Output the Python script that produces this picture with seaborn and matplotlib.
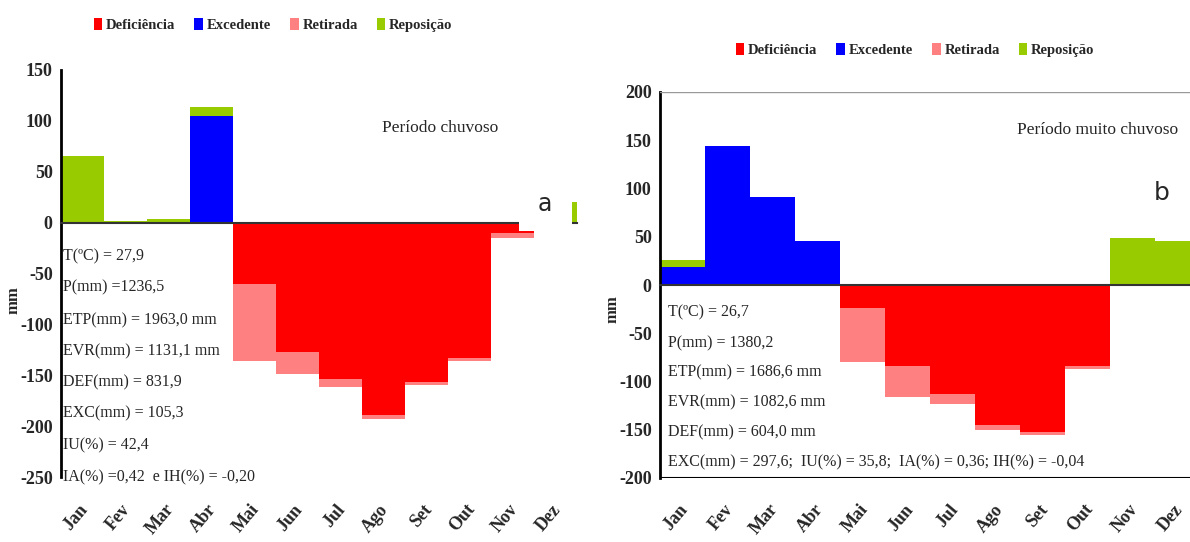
# -*- coding: utf-8 -*-
# Balanco hidrico - periodo chuvoso (a) e periodo muito chuvoso (b)

import matplotlib
matplotlib.use("Agg")
import matplotlib.pyplot as plt
import matplotlib.transforms as mtransforms
from matplotlib.patches import Patch, Rectangle
import seaborn as sns

# Meses
months = ['Jan', 'Fev', 'Mar', 'Abr', 'Mai', 'Jun', 'Jul', 'Ago', 'Set', 'Out', 'Nov', 'Dez']

# Painel a - periodo chuvoso (mm)
a_def = [0, 0, 0, 0, -60, -127, -154, -189, -157, -133, -10, 0]
a_ret = [0, 0, 0, 0, -76, -22, -8, -4, -3, -3, -5, 0]
a_exc = [0, 0, 0, 105, 0, 0, 0, 0, 0, 0, 0, 0]
a_rep = [65, 2, 4, 9, 0, 0, 0, 0, 0, 0, 0, 20]

# Painel b - periodo muito chuvoso (mm)
b_def = [0, 0, 0, 0, -24, -84, -113, -145, -152, -84, 0, 0]
b_ret = [0, 0, 0, 0, -56, -32, -10, -5, -3, -3, 0, 0]
b_exc = [19, 144, 91, 46, 0, 0, 0, 0, 0, 0, 0, 0]
b_rep = [7, 0, 0, 0, 0, 0, 0, 0, 0, 0, 49, 46]

a_stats = ['T(ºC) = 27,9', 'P(mm) =1236,5', 'ETP(mm) = 1963,0 mm', 'EVR(mm) = 1131,1 mm',
           'DEF(mm) = 831,9', 'EXC(mm) = 105,3', 'IU(%) = 42,4', 'IA(%) =0,42  e IH(%) = -0,20']
b_stats = ['T(ºC) = 26,7', 'P(mm) = 1380,2', 'ETP(mm) = 1686,6 mm', 'EVR(mm) = 1082,6 mm',
           'DEF(mm) = 604,0 mm', 'EXC(mm) = 297,6;  IU(%) = 35,8;  IA(%) = 0,36; IH(%) = -0,04']

labels = ['Deficiência', 'Excedente', 'Retirada', 'Reposição']
colors = ['#FF0000', '#0000FF', '#FF8080', '#99CC00']
c_def, c_exc, c_ret, c_rep = colors

sns.set_theme(style='white')
plt.rcParams['font.family'] = ['Liberation Serif', 'DejaVu Serif']
plt.rcParams['axes.unicode_minus'] = False

W, H = 1190, 542
fig = plt.figure(figsize=(W / 100, H / 100), dpi=100)

def fx(px):
    return px / W

def fy(py):
    return 1 - py / H

ax1 = fig.add_axes([fx(61), fy(477), fx(516), 407 / H])
ax2 = fig.add_axes([fx(660), fy(478), fx(540), 386 / H])


def draw_panel(ax, d, r, e, p):
    neg_tot = [x + y for x, y in zip(d, r)]
    pos_tot = [x + y for x, y in zip(e, p)]
    # stacked bars by overdrawing the totals
    sns.barplot(x=months, y=neg_tot, color=c_ret, width=1, saturation=1, linewidth=0, ax=ax)
    sns.barplot(x=months, y=d, color=c_def, width=1, saturation=1, linewidth=0, ax=ax)
    sns.barplot(x=months, y=pos_tot, color=c_rep, width=1, saturation=1, linewidth=0, ax=ax)
    sns.barplot(x=months, y=e, color=c_exc, width=1, saturation=1, linewidth=0, ax=ax)
    ax.set_xlim(-0.5, 11.5)
    ax.set_xticks([i + 0.5 for i in range(12)])
    ax.set_xticklabels([])
    ax.set_xlabel('')
    ax.set_ylabel('')
    for s in ['top', 'right']:
        ax.spines[s].set_visible(False)
    ax.spines['bottom'].set_position(('data', 0))
    ax.spines['bottom'].set_color('#333333')
    ax.spines['bottom'].set_linewidth(1.5)
    ax.spines['left'].set_color('black')
    ax.spines['left'].set_linewidth(2)
    ax.tick_params(axis='x', direction='out', length=6, width=1, color='#333333', pad=0)
    ax.tick_params(axis='y', direction='out', length=4, width=1.5, color='black',
                   labelsize=13, pad=2)
    # month labels under the plot
    tr = mtransforms.blended_transform_factory(ax.transData, fig.transFigure)
    for i, m in enumerate(months):
        ax.text(i + 0.2, fy(501), m, transform=tr, rotation=50, ha='right', va='top',
                fontsize=13, fontweight='bold')


draw_panel(ax1, a_def, a_ret, a_exc, a_rep)
ax1.set_ylim(-250, 150)
ax1.set_yticks(range(-250, 151, 50))
for t in ax1.get_yticklabels():
    t.set_fontweight('bold')

draw_panel(ax2, b_def, b_ret, b_exc, b_rep)
ax2.set_ylim(-200, 200)
ax2.set_yticks(range(-200, 201, 50))
for t in ax2.get_yticklabels():
    t.set_fontweight('bold')
ax2.axhline(200, color='#999999', lw=1, zorder=3)
ax2.axhline(-200, color='black', lw=1.5, zorder=3)

# white patch with the panel letter (as in the original figure)
ax1.add_patch(Rectangle((10.15, -8.5), 1.23, 45, facecolor='white', edgecolor='none', zorder=4))
ax1.text(10.76, 18, 'a', fontsize=17, family='DejaVu Sans', ha='center', va='center', zorder=5)
ax2.text(10.65, 95, 'b', fontsize=18, family='DejaVu Sans', ha='center', va='center', zorder=5)

# period titles
fig.text(fx(440), fy(128), 'Período chuvoso', fontsize=12.5, ha='center', va='center')
fig.text(fx(1098), fy(130), 'Período muito chuvoso', fontsize=12.5, ha='center', va='center')

# statistics
ys_a = [256, 287, 320, 351, 382, 413, 445, 477]
for s, yy in zip(a_stats, ys_a):
    fig.text(fx(63), fy(yy), s, fontsize=11.5, ha='left', va='center')
ys_b = [312, 343, 372, 402, 432, 462]
for s, yy in zip(b_stats, ys_b):
    fig.text(fx(668), fy(yy), s, fontsize=11.5, ha='left', va='center')

# y labels
fig.text(fx(14), fy(300), 'mm', rotation=90, fontsize=12, fontweight='bold', ha='center', va='center')
fig.text(fx(613), fy(309), 'mm', rotation=90, fontsize=12, fontweight='bold', ha='center', va='center')

# legends
handles = [Patch(facecolor=c, edgecolor='none') for c in colors]
for cx, cy in [(273, 25), (915, 50)]:
    fig.legend(handles, labels, loc='center', bbox_to_anchor=(fx(cx), fy(cy)), ncol=4,
               frameon=False, handlelength=0.6, handleheight=0.9, handletextpad=0.25,
               columnspacing=1.3, prop={'family': 'Liberation Serif', 'weight': 'bold', 'size': 10.5})

fig.savefig('out.png', dpi=100)
